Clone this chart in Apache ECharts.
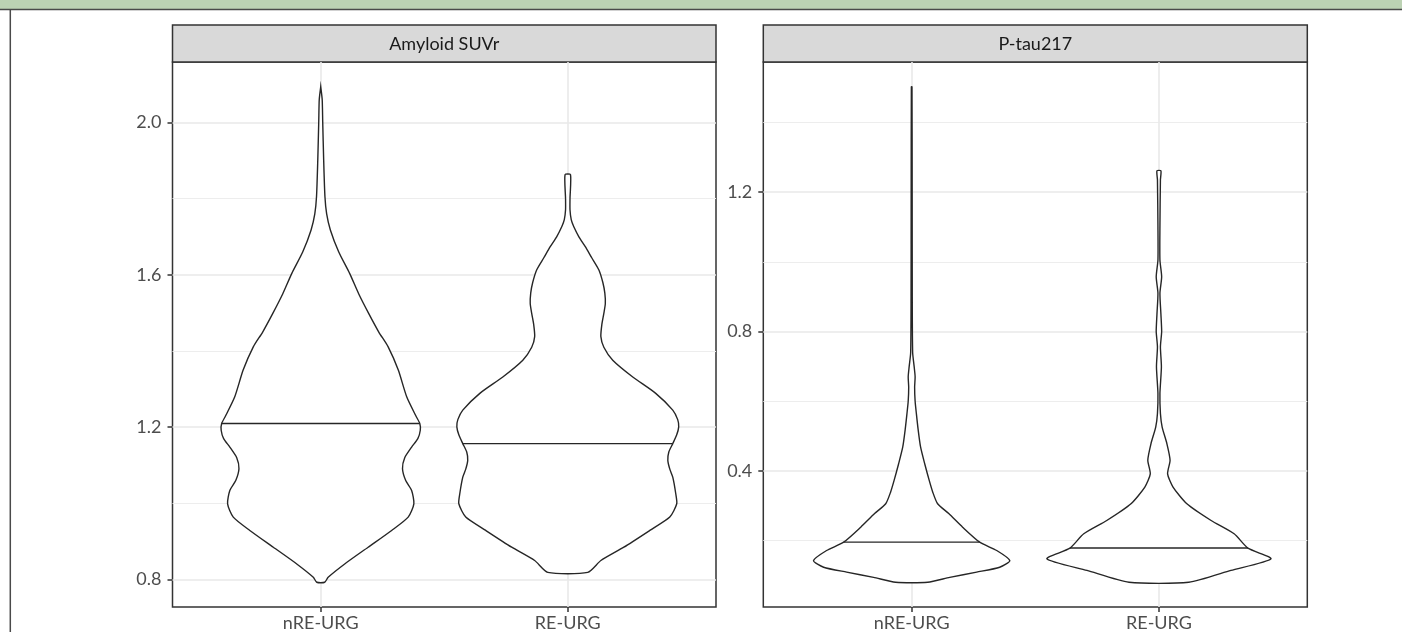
<!DOCTYPE html>
<html><head><meta charset="utf-8">
<script src="https://cdn.jsdelivr.net/npm/echarts@6/dist/echarts.min.js"></script>
<style>html,body{margin:0;padding:0;background:#fff}#c{width:1402px;height:632px}</style>
</head><body><div id="c"></div>
<script>
// ---------- data ----------
const categories = ['nRE-URG', 'RE-URG'];
const panelTitles = ['Amyloid SUVr', 'P-tau217'];

// Violin outlines: measured value levels (top to bottom) and half-widths (in category units)
const amyloidNreLevels = [2.094, 2.06, 2.003, 1.90, 1.806, 1.76, 1.718, 1.66, 1.604, 1.55, 1.499, 1.45, 1.411, 1.35, 1.28, 1.23, 1.21, 1.192, 1.17, 1.148, 1.12, 1.091, 1.06, 1.034, 0.999, 0.964, 0.929, 0.885, 0.841, 0.806, 0.793];
const amyloidNreHalf   = [0.000, 0.006, 0.008, 0.012, 0.017, 0.024, 0.039, 0.073, 0.117, 0.154, 0.194, 0.235, 0.273, 0.314, 0.348, 0.385, 0.401, 0.403, 0.393, 0.368, 0.340, 0.331, 0.344, 0.368, 0.377, 0.354, 0.287, 0.192, 0.097, 0.030, 0.016];

const amyloidReLevels = [1.863, 1.80, 1.771, 1.745, 1.727, 1.70, 1.674, 1.645, 1.613, 1.58, 1.552, 1.525, 1.499, 1.47, 1.438, 1.41, 1.376, 1.332, 1.289, 1.245, 1.22, 1.201, 1.18, 1.157, 1.135, 1.113, 1.09, 1.069, 1.026, 0.999, 0.964, 0.929, 0.885, 0.850, 0.819];
const amyloidReHalf   = [0.011, 0.009, 0.009, 0.014, 0.024, 0.045, 0.071, 0.097, 0.126, 0.142, 0.150, 0.152, 0.146, 0.138, 0.134, 0.146, 0.182, 0.263, 0.356, 0.425, 0.445, 0.449, 0.441, 0.425, 0.409, 0.405, 0.413, 0.425, 0.437, 0.441, 0.413, 0.332, 0.227, 0.134, 0.081];

const ptauNreLevels = [1.502, 1.2, 0.9, 0.74, 0.70, 0.67, 0.64, 0.60, 0.565, 0.52, 0.469, 0.42, 0.373, 0.34, 0.306, 0.278, 0.239, 0.196, 0.172, 0.143, 0.124, 0.110, 0.095, 0.081];
const ptauNreHalf   = [0.0012, 0.002, 0.0024, 0.004, 0.010, 0.014, 0.012, 0.014, 0.019, 0.026, 0.036, 0.053, 0.071, 0.085, 0.105, 0.150, 0.206, 0.275, 0.344, 0.397, 0.356, 0.263, 0.154, 0.065];

const ptauReLevels = [1.261, 1.235, 1.10, 1.005, 0.957, 0.91, 0.85, 0.80, 0.756, 0.699, 0.622, 0.565, 0.526, 0.479, 0.431, 0.392, 0.354, 0.306, 0.258, 0.220, 0.179, 0.148, 0.115, 0.081];
const ptauReHalf   = [0.008, 0.006, 0.004, 0.004, 0.011, 0.004, 0.008, 0.011, 0.006, 0.010, 0.004, 0.006, 0.013, 0.032, 0.045, 0.035, 0.057, 0.113, 0.211, 0.304, 0.360, 0.453, 0.291, 0.121];

const amyloidMedians = [1.21, 1.157];
const ptauMedians = [0.196, 0.179];

const amyloidRange = [0.728, 2.159];
const ptauRange = [0.010, 1.573];
const amyloidTicks = [0.8, 1.2, 1.6, 2.0];
const amyloidMinor = [1.0, 1.4, 1.8];
const ptauTicks = [0.4, 0.8, 1.2];
const ptauMinor = [0.2, 0.6, 1.0, 1.4];
const xTicks = [1, 2];

// ---------- chart ----------
const FONT = 'Lato';
const gridBox = [{left: 172.5, top: 62, width: 543.5, height: 545}, {left: 763.3, top: 62, width: 544, height: 545}];

function halfAt(levels, half, m) {
  for (let k = 0; k < levels.length - 1; k++) {
    const a = levels[k], b = levels[k + 1];
    if ((m <= a && m >= b)) {
      const t = (a - m) / (a - b);
      return half[k] + t * (half[k + 1] - half[k]);
    }
  }
  return 0;
}

function violinSeries(idx, profiles, medians, ticks, minor) {
  const gridData = [];
  ticks.forEach(v => gridData.push({yAxis: v, lineStyle: {color: '#e9e9e9', width: 1.6, type: 'solid'}}));
  minor.forEach(v => gridData.push({yAxis: v, lineStyle: {color: '#ededed', width: 1.2, type: 'solid'}}));
  xTicks.forEach(v => gridData.push({xAxis: v, lineStyle: {color: '#e9e9e9', width: 1.6, type: 'solid'}}));
  return {
    type: 'custom',
    xAxisIndex: idx, yAxisIndex: idx,
    z: 3,
    silent: true,
    animation: false,
    data: profiles.map((p, i) => [i + 1]),
    renderItem(params, api) {
      const p = profiles[params.dataIndex];
      const x0 = api.value(0);
      const pts = [];
      for (let k = 0; k < p.levels.length; k++) pts.push(api.coord([x0 + p.half[k], p.levels[k]]));
      for (let k = p.levels.length - 1; k >= 0; k--) pts.push(api.coord([x0 - p.half[k], p.levels[k]]));
      const m = medians[params.dataIndex];
      const hw = halfAt(p.levels, p.half, m);
      const a = api.coord([x0 - hw, m]), b = api.coord([x0 + hw, m]);
      return {
        type: 'group',
        children: [
          {type: 'polygon', shape: {points: pts, smooth: 0.22}, style: {fill: '#ffffff', stroke: '#262626', lineWidth: 1.4}},
          {type: 'line', shape: {x1: a[0], y1: a[1], x2: b[0], y2: b[1]}, style: {stroke: '#262626', lineWidth: 1.4}}
        ]
      };
    },
    markLine: {
      silent: true, z: 1, animation: false,
      symbol: ['none', 'none'],
      label: {show: false},
      emphasis: {disabled: true},
      data: gridData
    }
  };
}

const xAxisBase = (idx) => ({
  type: 'value', gridIndex: idx, min: 0.4, max: 2.6,
  axisLine: {show: false},
  splitLine: {show: false},
  axisTick: {show: true, customValues: xTicks, length: 5, lineStyle: {color: '#333', width: 1.5}},
  axisLabel: {customValues: xTicks, formatter: v => categories[Math.round(v) - 1], color: '#4d4d4d', fontSize: 18, fontFamily: FONT, margin: 7}
});
const yAxisBase = (idx, range, ticks) => ({
  type: 'value', gridIndex: idx, min: range[0], max: range[1],
  axisLine: {show: false},
  splitLine: {show: false},
  axisTick: {show: true, customValues: ticks, length: 5, lineStyle: {color: '#333', width: 1.5}},
  axisLabel: {customValues: ticks, formatter: v => v.toFixed(1), color: '#4d4d4d', fontSize: 18, fontFamily: FONT, margin: 11}
});

const graphics = [
  {type: 'rect', shape: {x: 0, y: 0, width: 1402, height: 9}, style: {fill: '#bcd2b4'}},
  {type: 'line', shape: {x1: 0, y1: 9.5, x2: 1402, y2: 9.5}, style: {stroke: '#4a4a4a', lineWidth: 1.5}},
  {type: 'line', shape: {x1: 10.3, y1: 9.5, x2: 10.3, y2: 632}, style: {stroke: '#4a4a4a', lineWidth: 1.5}}
];
gridBox.forEach((g, i) => {
  graphics.push({type: 'rect', shape: {x: g.left, y: 25, width: g.width, height: 37}, style: {fill: '#d9d9d9', stroke: '#333', lineWidth: 1.5}});
  graphics.push({type: 'text', x: g.left + g.width / 2, y: 44, style: {text: panelTitles[i], fill: '#1a1a1a', fontSize: 18, fontFamily: FONT, align: 'center', verticalAlign: 'middle'}});
});

const option = {
  animation: false,
  backgroundColor: '#ffffff',
  grid: gridBox.map(g => Object.assign({show: true, backgroundColor: '#fff', borderColor: '#333', borderWidth: 1.5, containLabel: false}, g)),
  xAxis: [xAxisBase(0), xAxisBase(1)],
  yAxis: [yAxisBase(0, amyloidRange, amyloidTicks), yAxisBase(1, ptauRange, ptauTicks)],
  series: [
    violinSeries(0, [{levels: amyloidNreLevels, half: amyloidNreHalf}, {levels: amyloidReLevels, half: amyloidReHalf}], amyloidMedians, amyloidTicks, amyloidMinor),
    violinSeries(1, [{levels: ptauNreLevels, half: ptauNreHalf}, {levels: ptauReLevels, half: ptauReHalf}], ptauMedians, ptauTicks, ptauMinor)
  ],
  graphic: graphics
};
const chart = echarts.init(document.getElementById('c'), null, {renderer: 'canvas'});
chart.setOption(option);
</script>
</body></html>
